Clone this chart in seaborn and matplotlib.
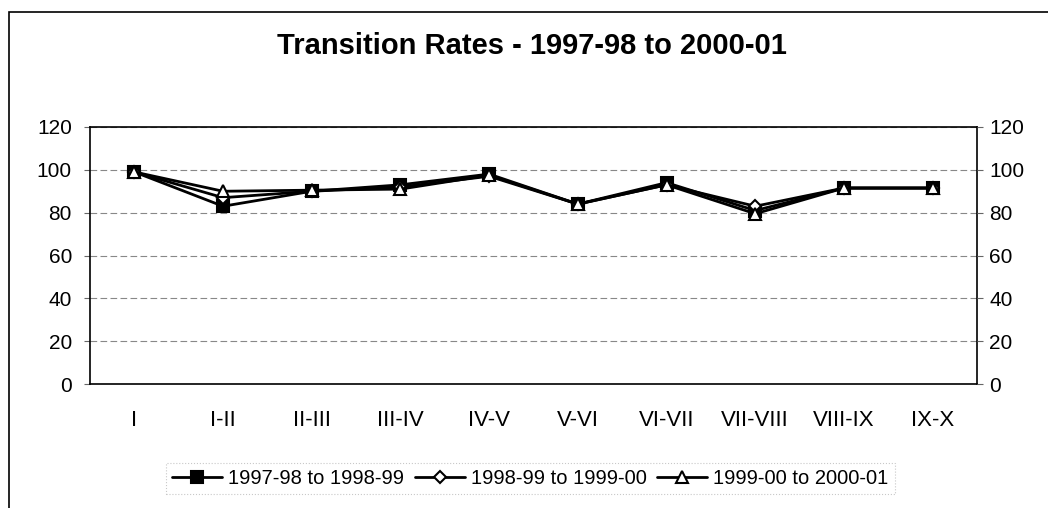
import pandas as pd
import matplotlib
matplotlib.use("Agg")
import matplotlib.pyplot as plt
import seaborn as sns
from matplotlib.patches import Rectangle

# categories and transition rates
classes = ["I", "I-II", "II-III", "III-IV", "IV-V", "V-VI", "VI-VII", "VII-VIII", "VIII-IX", "IX-X"]
rate_9798 = [99, 83, 90, 93, 98, 84, 94, 81, 91.5, 91.5]
rate_9899 = [99, 87, 90, 92, 97, 84, 93, 83, 91.5, 91.5]
rate_9900 = [99, 90, 90.5, 91, 97.5, 84, 93, 79.5, 91.5, 91.5]
labels = ["1997-98 to 1998-99", "1998-99 to 1999-00", "1999-00 to 2000-01"]
y_ticks = [0, 20, 40, 60, 80, 100, 120]

sns.set_theme(style="white")
plt.rcParams["font.family"] = ["Liberation Sans", "DejaVu Sans"]
plt.rcParams["text.color"] = "black"

fig = plt.figure(figsize=(10.48, 5.08), dpi=100)
ax = fig.add_axes([90 / 1048, 1 - 384 / 508, 887 / 1048, 257 / 508])

# outer chart frame (right/bottom fall off the page)
fig.patches.append(Rectangle((9 / 1048, -0.1), 1.2, 1 - 12 / 508 + 0.1,
                             transform=fig.transFigure, fill=False,
                             edgecolor="black", linewidth=1.2))

styles = [("s", "black", 8), ("D", "white", 6.5), ("^", "white", 8)]
for vals, lab, (mk, fc, ms) in zip([rate_9798, rate_9899, rate_9900], labels, styles):
    sns.lineplot(x=classes, y=vals, ax=ax, color="black", linewidth=2,
                 marker=mk, markersize=ms, markerfacecolor=fc,
                 markeredgecolor="black", markeredgewidth=1.5, label=lab, sort=False)

ax.set_xlim(-0.5, 9.5)
ax.set_ylim(0, 120)
ax.set_yticks(y_ticks)
ax.yaxis.grid(True, color="#888888", linestyle=(0, (6, 3)), linewidth=0.8)
ax.set_axisbelow(True)
for s in ax.spines.values():
    s.set_color("black")
    s.set_linewidth(1.2)

ax.tick_params(axis="y", left=True, length=4, width=0.8, color="#666666",
               labelsize=15, pad=9, labelcolor="black")
ax.tick_params(axis="x", bottom=False, labelsize=16, pad=13, labelcolor="black")
ax.set_xlabel("")
ax.set_ylabel("")

ax2 = ax.twinx()
ax2.set_ylim(0, 120)
ax2.set_yticks(y_ticks)
ax2.tick_params(axis="y", right=True, length=4, width=0.8, color="#666666",
                labelsize=15, pad=5, labelcolor="black")
ax2.grid(False)
for s in ax2.spines.values():
    s.set_visible(False)

fig.text(0.508, 0.91, "Transition Rates - 1997-98 to 2000-01", ha="center", va="center",
         fontsize=21, fontweight="bold", color="black")

handles, labs = ax.get_legend_handles_labels()
ax.get_legend().remove()
leg = fig.legend(handles, labs, loc="center", bbox_to_anchor=(0.506, 0.058), ncol=3,
                 fontsize=14.5, frameon=True, fancybox=False, handlelength=2.5,
                 handletextpad=0.3, columnspacing=0.5, borderpad=0.3)
leg.get_frame().set_edgecolor("#bbbbbb")
leg.get_frame().set_linestyle(":")
leg.get_frame().set_linewidth(0.8)
for t in leg.get_texts():
    t.set_color("black")

fig.savefig("out.png", dpi=100, facecolor="white")
